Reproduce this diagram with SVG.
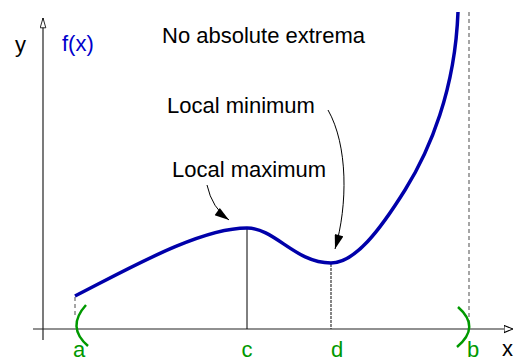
<svg xmlns="http://www.w3.org/2000/svg" width="515" height="363" viewBox="0 0 515 363">
<style>
text{font-family:"Liberation Sans",Arial,sans-serif;font-size:22px;fill:#000}
.g{fill:#009900;text-anchor:middle}
.axis{stroke:#222;stroke-width:1.2;fill:none}
.bnd{stroke:#009900;stroke-width:2.5;fill:none}
.dash{stroke:#888;stroke-width:1.5;stroke-dasharray:4,3;fill:none}
.lbl{stroke:#000;stroke-width:1;fill:none}
</style>
<defs>
<marker id="open" viewBox="0 0 10 10" refX="10" refY="5" markerWidth="9" markerHeight="9" markerUnits="userSpaceOnUse" orient="auto">
<path d="M0,1 L10,5 L0,9 Z" fill="#fff" stroke="#000" stroke-width="1.2"/>
</marker>
<marker id="open2" viewBox="0 0 14 10" refX="14" refY="5" markerWidth="13" markerHeight="7" markerUnits="userSpaceOnUse" orient="auto">
<path d="M0,1 L14,5 L0,9 Z" fill="#fff" stroke="#000" stroke-width="1.2"/>
</marker>
<marker id="fill" viewBox="0 0 16 10" refX="16" refY="5" markerWidth="16" markerHeight="9" markerUnits="userSpaceOnUse" orient="auto">
<path d="M0,0 L16,5 L0,10 Z" fill="#000"/>
</marker>
</defs>
<g id="axes">
<line class="axis" x1="33" y1="329" x2="513" y2="329" marker-end="url(#open)"/>
<line class="axis" x1="43" y1="340" x2="43" y2="18" marker-end="url(#open2)"/>
<text x="15" y="52">y</text>
<text x="62" y="51" style="fill:#0000cc">f(x)</text>
<text x="502" y="356">x</text>
</g>
<g id="guides">
<line class="dash" x1="75" y1="297" x2="75" y2="316"/>
<line class="dash" x1="469" y1="12" x2="469" y2="329"/>
<line stroke="#000" stroke-width="1" x1="247" y1="229" x2="247" y2="329"/>
<line stroke="#222" stroke-width="1.1" stroke-dasharray="3,1" x1="331" y1="264" x2="331" y2="329"/>
</g>
<g id="curve">
<path d="M75,296 C130,268 200,228 247,228 C275,228 295,263 331,263 C355,263 380,230 405,190 C430,150 455,90 458,12" fill="none" stroke="#0000aa" stroke-width="3.5"/>
</g>
<g id="node-a">
<path class="bnd" d="M86,305 Q66,327 88,346"/>
<text class="g" x="79" y="357">a</text>
</g>
<g id="node-b">
<path class="bnd" d="M458,307 Q481,327 457,347"/>
<text class="g" x="473" y="357">b</text>
</g>
<g id="node-c">
<text class="g" x="247" y="357">c</text>
</g>
<g id="node-d">
<text class="g" x="337" y="357">d</text>
</g>
<g id="title">
<text x="162" y="43">No absolute extrema</text>
</g>
<g id="local-min">
<text x="167" y="113">Local minimum</text>
</g>
<g id="local-max">
<text x="172" y="177">Local maximum</text>
</g>
<g id="connectors">
<path class="lbl" d="M207,185 Q212,208 229,220" marker-end="url(#fill)"/>
<path class="lbl" d="M328,110 C348,145 348,205 335,249" marker-end="url(#fill)"/>
</g>
</svg>
